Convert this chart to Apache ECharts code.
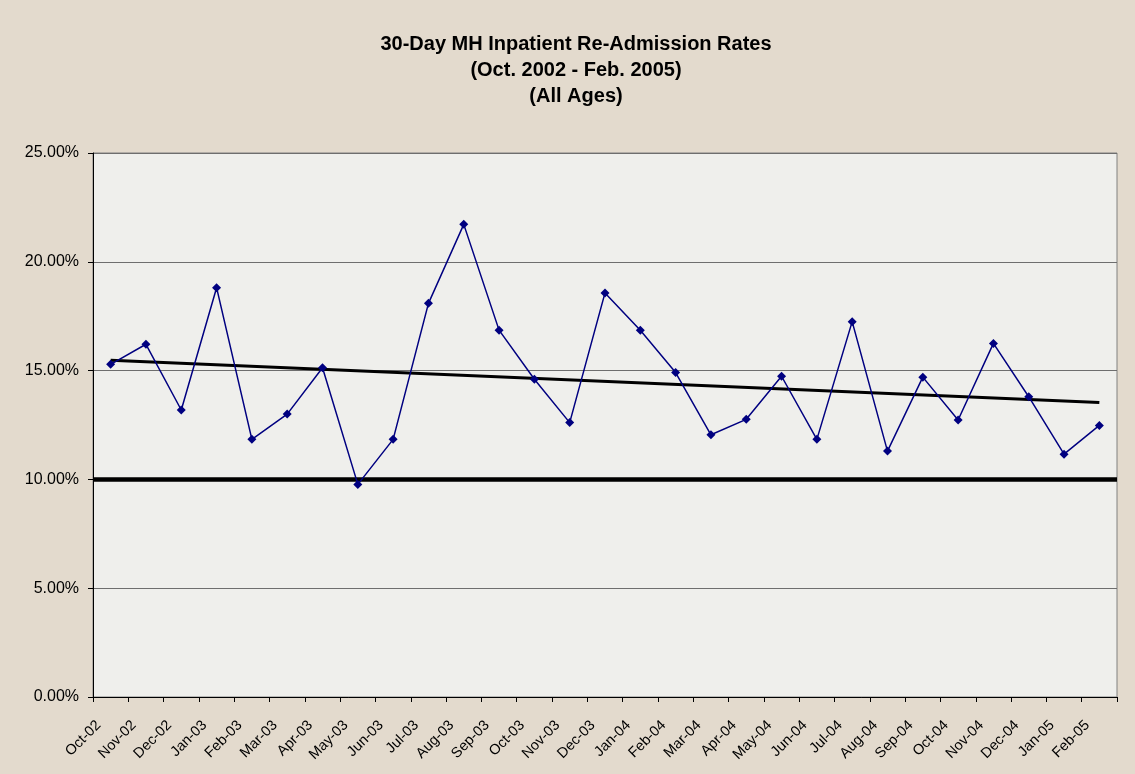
<!DOCTYPE html>
<html>
<head>
<meta charset="utf-8">
<script src="https://cdn.jsdelivr.net/npm/echarts@6/dist/echarts.min.js"></script>
<style>
html,body{margin:0;padding:0;background:#e3dacd;}
#chart{width:1135px;height:774px;}
</style>
</head>
<body>
<div id="chart"></div>
<script>
const categories = ['Oct-02','Nov-02','Dec-02','Jan-03','Feb-03','Mar-03','Apr-03','May-03','Jun-03','Jul-03','Aug-03','Sep-03','Oct-03','Nov-03','Dec-03','Jan-04','Feb-04','Mar-04','Apr-04','May-04','Jun-04','Jul-04','Aug-04','Sep-04','Oct-04','Nov-04','Dec-04','Jan-05','Feb-05'];
const rates = [15.29,16.21,13.19,18.81,11.84,13.00,15.13,9.77,11.84,18.09,21.72,16.86,14.60,12.61,18.57,16.85,14.91,12.05,12.76,14.74,11.84,17.25,11.30,14.70,12.73,16.25,13.80,11.16,12.48];
const trendStart = 15.47;
const trendEnd = 13.53;
const targetRate = 10;
const yTicks = [0,5,10,15,20,25];

const trendData = categories.map((c,i)=> i===0 ? trendStart : (i===categories.length-1 ? trendEnd : null));

const chart = echarts.init(document.getElementById('chart'));
chart.setOption({
  backgroundColor:'#e3dacd',
  animation:false,
  title:{
    text:'30-Day MH Inpatient Re-Admission Rates\n(Oct. 2002 - Feb. 2005)\n(All Ages)',
    left:571, textAlign:'center', top:26,
    textStyle:{fontFamily:'Liberation Sans, Arial', fontWeight:'bold', fontSize:20, lineHeight:26, color:'#000'}
  },
  grid:{left:93,right:18,top:153,bottom:77,show:true,backgroundColor:'#efefec',borderColor:'#808080',borderWidth:1},
  xAxis:{
    type:'category', data:categories, boundaryGap:true,
    axisLine:{lineStyle:{color:'#000',width:1}},
    axisTick:{show:true,interval:0,length:5,lineStyle:{color:'#000'}},
    axisLabel:{interval:0,rotate:45,fontFamily:'Liberation Sans, Arial',fontSize:14.5,color:'#000',margin:14,padding:[0,17,0,0]},
    splitLine:{show:false}
  },
  yAxis:{
    type:'value', min:yTicks[0], max:yTicks[yTicks.length-1], interval:5,
    axisLine:{show:true,lineStyle:{color:'#000',width:1}},
    axisTick:{show:true,length:5,lineStyle:{color:'#000'}},
    axisLabel:{formatter:v=>v.toFixed(2)+'%',fontFamily:'Liberation Sans, Arial',fontSize:16,color:'#000',margin:14},
    splitLine:{show:true,lineStyle:{color:'#6e6e6e',width:1}}
  },
  series:[
    {
      name:'Rate', type:'line', data:rates, symbol:'diamond', symbolSize:9,
      lineStyle:{color:'#000080',width:1.5}, itemStyle:{color:'#000080'},
      markLine:{silent:true,symbol:'none',label:{show:false},
        lineStyle:{color:'#000',width:4.5,type:'solid'},
        data:[{yAxis:targetRate}]},
      z:5
    },
    {
      name:'Trend', type:'line', data:trendData, connectNulls:true, symbol:'none',
      lineStyle:{color:'#000',width:3}, z:4
    }
  ]
});
</script>
</body>
</html>
